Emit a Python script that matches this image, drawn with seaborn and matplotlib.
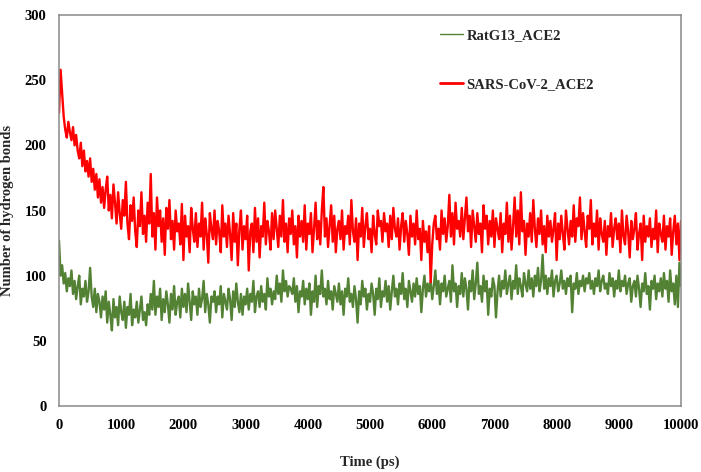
import numpy as np
import pandas as pd
import matplotlib
matplotlib.use("Agg")
import matplotlib.pyplot as plt
import seaborn as sns

# Hydrogen bond counts, one value every 25 ps
time_ps = list(range(0, 10001, 25))

sars_cov2_ace2 = [
    225, 258, 240, 222, 212, 206, 218, 210, 204, 214,
    200, 208, 196, 190, 202, 184, 196, 180, 188, 176,
    190, 172, 182, 166, 178, 160, 174, 156, 168, 152,
    166, 176, 150, 162, 144, 170, 156, 140, 164, 148,
    136, 158, 146, 172, 140, 128, 154, 142, 160, 134,
    122, 150, 138, 164, 132, 146, 126, 156, 140, 178,
    130, 148, 120, 160, 138, 150, 126, 144, 116, 152,
    136, 158, 128, 142, 120, 150, 134, 140, 124, 155,
    112, 146, 130, 138, 118, 152, 136, 126, 148, 122,
    140, 130, 156, 120, 144, 132, 110, 148, 136, 128,
    150, 124, 142, 134, 118, 154, 130, 140, 122, 146,
    132, 112, 148, 126, 140, 108, 136, 150, 120, 138,
    128, 146, 104, 134, 140, 118, 152, 126, 144, 114,
    138, 130, 156, 124, 142, 134, 120, 148, 128, 150,
    136, 122, 146, 130, 158, 126, 140, 118, 144, 132,
    150, 124, 138, 114, 146, 130, 142, 126, 154, 120,
    140, 132, 148, 118, 136, 156, 128, 142, 124, 150,
    168, 130, 144, 122, 138, 154, 126, 146, 118, 136,
    142, 128, 150, 120, 138, 132, 146, 124, 158, 134,
    126, 144, 112, 140, 130, 152, 122, 138, 148, 128,
    136, 118, 146, 132, 124, 150, 138, 142, 126, 148,
    134, 140, 122, 146, 128, 152, 136, 130, 144, 120,
    138, 148, 126, 142, 132, 116, 146, 130, 140, 124,
    150, 128, 136, 112, 142, 126, 134, 118, 138, 95,
    124, 140, 146, 128, 136, 120, 150, 132, 144, 126,
    138, 162, 130, 148, 124, 156, 136, 142, 130, 152,
    128, 144, 160, 134, 146, 122, 150, 138, 126, 148,
    132, 140, 118, 154, 136, 146, 124, 142, 130, 150,
    122, 144, 136, 128, 148, 118, 140, 132, 156, 126,
    146, 120, 138, 160, 130, 150, 124, 164, 134, 142,
    116, 140, 130, 148, 126, 158, 136, 122, 144, 132,
    150, 124, 138, 118, 146, 130, 142, 126, 136, 148,
    112, 140, 128, 146, 132, 120, 150, 136, 124, 142,
    130, 154, 126, 144, 138, 160, 128, 148, 134, 122,
    146, 136, 158, 124, 140, 130, 150, 120, 144, 132,
    126, 142, 116, 138, 130, 148, 122, 136, 144, 128,
    140, 118, 150, 130, 124, 146, 134, 114, 142, 128,
    136, 148, 120, 132, 140, 112, 146, 126, 138, 130,
    144, 122, 136, 128, 150, 118, 140, 132, 126, 146,
    120, 138, 130, 144, 116, 134, 146, 124, 140, 112,
    142,
]

ratg13_ace2 = [
    127, 100, 108, 94, 102, 88, 98, 92, 104, 86,
    96, 82, 92, 100, 78, 90, 84, 96, 80, 88,
    106, 84, 76, 90, 72, 86, 80, 68, 84, 74,
    88, 64, 80, 70, 58, 82, 68, 76, 62, 84,
    72, 66, 80, 60, 76, 70, 86, 62, 74, 68,
    80, 64, 74, 84, 66, 72, 62, 78, 70, 86,
    74, 96, 70, 84, 76, 90, 66, 82, 72, 88,
    78, 64, 86, 74, 92, 70, 80, 84, 68, 90,
    76, 86, 72, 94, 80, 66, 88, 78, 84, 70,
    90, 76, 82, 96, 72, 86, 78, 64, 84, 80,
    88, 72, 84, 78, 92, 68, 86, 80, 74, 90,
    82, 66, 88, 76, 94, 80, 72, 86, 70, 84,
    78, 90, 74, 86, 80, 96, 72, 84, 88, 76,
    92, 80, 86, 74, 98, 84, 90, 78, 88, 82,
    100, 86, 94, 80, 104, 88, 96, 84, 92, 90,
    86, 98, 80, 92, 72, 88, 84, 96, 78, 90,
    82, 94, 70, 88, 80, 100, 76, 92, 86, 104,
    84, 90, 78, 96, 82, 88, 74, 92, 86, 80,
    94, 78, 88, 70, 90, 84, 98, 80, 86, 76,
    92, 82, 64, 88, 78, 96, 84, 90, 74, 86,
    80, 94, 86, 70, 90, 82, 98, 76, 88, 84,
    96, 80, 92, 74, 88, 100, 84, 90, 78, 94,
    86, 102, 82, 90, 76, 96, 88, 80, 94, 84,
    98, 86, 92, 72, 90, 100, 84, 94, 88, 96,
    82, 92, 104, 86, 96, 78, 94, 88, 100, 84,
    90, 96, 80, 108, 88, 94, 76, 92, 86, 102,
    84, 98, 90, 74, 96, 88, 104, 82, 94, 110,
    86, 92, 80, 100, 88, 96, 70, 90, 84, 98,
    92, 68, 88, 100, 84, 96, 90, 104, 86, 94,
    100, 82, 96, 90, 108, 86, 98, 92, 84, 102,
    94, 88, 104, 90, 98, 84, 100, 92, 106, 88,
    96, 116, 90, 100, 86, 98, 92, 104, 84, 96,
    100, 88, 94, 104, 90, 96, 86, 98, 92, 100,
    72, 94, 90, 102, 86, 96, 92, 100, 88, 98,
    94, 102, 90, 96, 86, 98, 92, 104, 88, 96,
    100, 90, 94, 86, 102, 92, 98, 84, 96, 90,
    104, 88, 96, 92, 100, 86, 94, 98, 80, 92,
    96, 84, 100, 90, 76, 94, 88, 102, 86, 92,
    74, 96, 90, 100, 82, 94, 88, 98, 84, 102,
    90, 96, 80, 104, 88, 94, 78, 100, 76, 110,
    92,
]

series_names = ["RatG13_ACE2", "SARS-CoV-2_ACE2"]
series_colors = ["#548235", "#FF0000"]

df = pd.concat([
    pd.DataFrame({"Time (ps)": time_ps, "Hbonds": ratg13_ace2, "System": series_names[0]}),
    pd.DataFrame({"Time (ps)": time_ps, "Hbonds": sars_cov2_ace2, "System": series_names[1]}),
])

sns.set_style("white")
plt.rcParams["font.family"] = ["Liberation Serif", "DejaVu Serif"]
plt.rcParams["font.weight"] = "bold"

fig = plt.figure(figsize=(7.01, 4.72), dpi=100)
ax = fig.add_axes([0.0842, 0.1398, 0.8873, 0.8284])

sns.lineplot(
    data=df, x="Time (ps)", y="Hbonds", hue="System",
    hue_order=series_names, palette=series_colors,
    linewidth=1.7, ax=ax,
)

ax.set_xlim(0, 10000)
ax.set_ylim(0, 300)
ax.set_xticks(range(0, 10001, 1000))
ax.set_yticks(range(0, 301, 50))
ax.tick_params(length=0, labelsize=10.5, pad=9, colors="black")
for lbl in ax.get_xticklabels() + ax.get_yticklabels():
    lbl.set_fontweight("bold")

for sp in ax.spines.values():
    sp.set_color("#898989")
    sp.set_linewidth(1.1)

ax.set_xlabel("Time (ps)", fontsize=10.5, fontweight="bold", labelpad=17)
ax.set_ylabel("Number of hydrogen bonds", fontsize=10.5, fontweight="bold")
ax.yaxis.set_label_coords(-0.072, 0.5)

leg = ax.legend(
    loc="upper left", bbox_to_anchor=(0.6125, 0.965), frameon=False,
    borderpad=0, borderaxespad=0, handlelength=1.6, handletextpad=0.2,
    labelspacing=2.5, prop={"size": 10.5, "weight": "bold"},
)
for line, lw in zip(leg.get_lines(), [1.0, 2.0]):
    line.set_linewidth(lw)

fig.savefig("out.png", dpi=100)
